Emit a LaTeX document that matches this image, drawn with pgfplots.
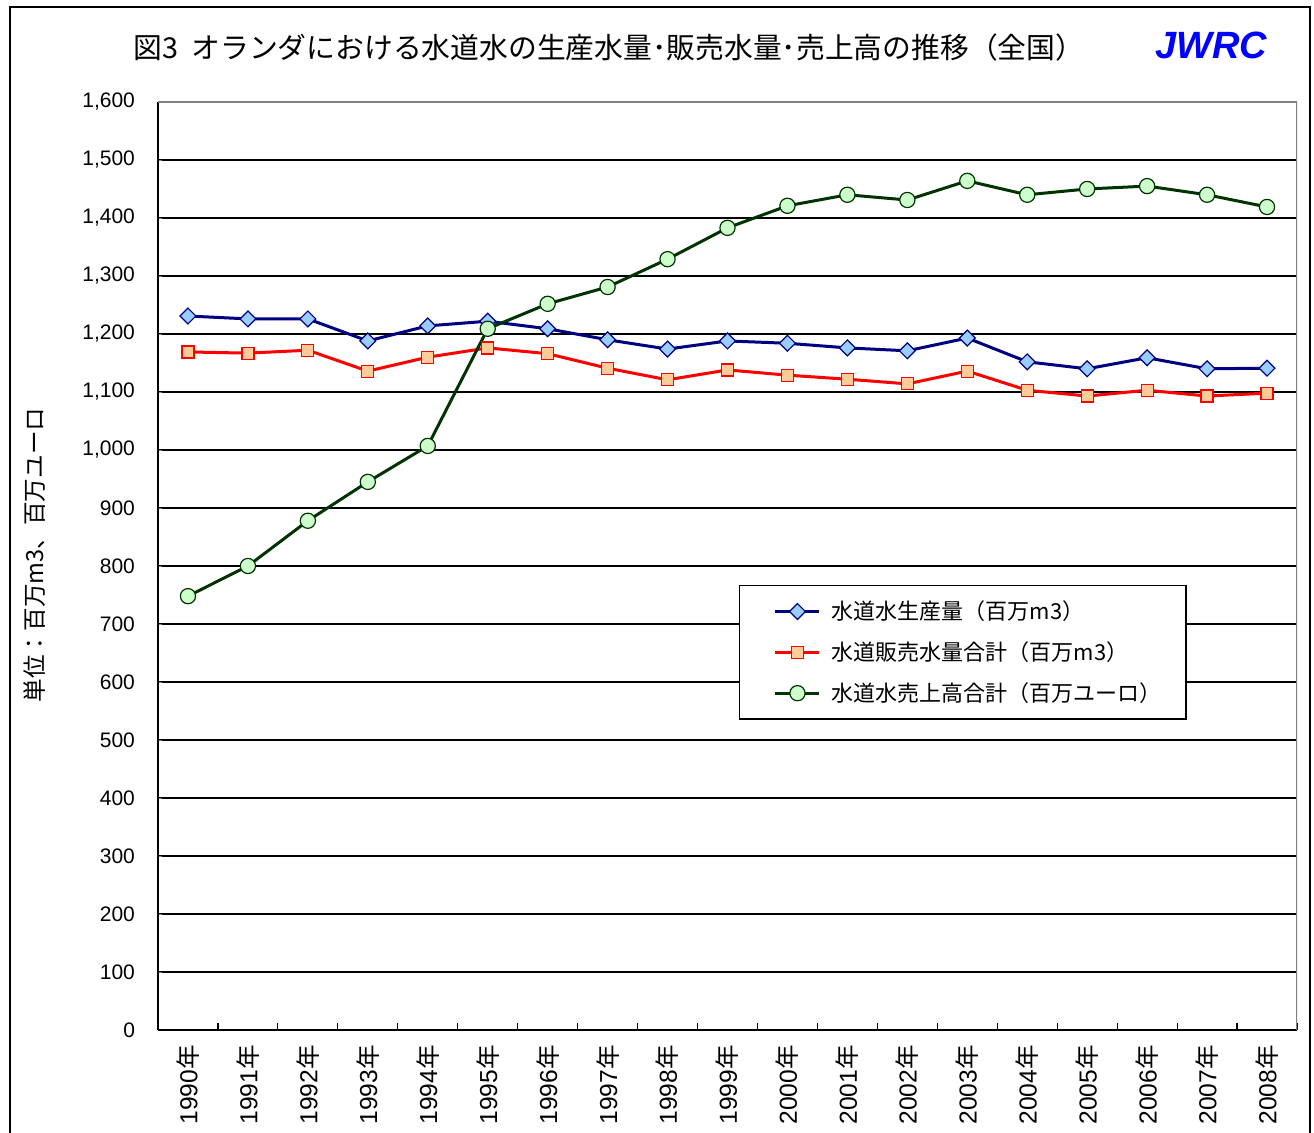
\documentclass[border=0pt]{standalone}
\usepackage{fontspec}
\setmainfont{Liberation Sans}
\newfontfamily\cjk{Noto Sans CJK JP}
\usepackage{pgfplots}
\pgfplotsset{compat=1.18}
\definecolor{navyline}{RGB}{0,0,128}
\definecolor{bluefill}{RGB}{153,204,255}
\definecolor{orangefill}{RGB}{255,204,153}
\definecolor{greenline}{RGB}{0,51,0}
\definecolor{greenfill}{RGB}{204,255,204}
\begin{document}
\begin{tikzpicture}
\useasboundingbox (0,0) rectangle (657pt,566.5pt);
\draw[line width=1.3pt] (5pt,-5pt) -- (5pt,563pt) -- (655pt,563pt) -- (655pt,-5pt);
\node[font=\cjk\fontsize{14.4}{15}\selectfont] at (304.5pt,542.5pt) {図3\ \ オランダにおける水道水の生産水量･販売水量･売上高の推移（全国）};
\node[font=\bfseries\itshape\fontsize{19}{20}\selectfont, text=blue] at (605.5pt,544pt) {JWRC};
\node[font=\cjk\fontsize{11.8}{12}\selectfont, rotate=90] at (17.5pt,289pt) {単位：百万m3、百万ユーロ};
\begin{axis}[
  at={(79pt,51.5pt)}, anchor=south west,
  scale only axis, width=569.5pt, height=464pt,
  xmin=-0.5, xmax=18.5, ymin=0, ymax=1600,
  axis x line*=bottom, axis y line*=left,
  axis line style={line width=1pt, black},
  xtick={0,...,18},
  xticklabels={1990{\cjk 年},1991{\cjk 年},1992{\cjk 年},1993{\cjk 年},1994{\cjk 年},1995{\cjk 年},1996{\cjk 年},1997{\cjk 年},1998{\cjk 年},1999{\cjk 年},2000{\cjk 年},2001{\cjk 年},2002{\cjk 年},2003{\cjk 年},2004{\cjk 年},2005{\cjk 年},2006{\cjk 年},2007{\cjk 年},2008{\cjk 年}},
  major x tick style={draw=none},
  minor xtick={-0.5,0.5,...,18.5},
  minor x tick style={black, line width=0.6pt},
  minor tick length=3.5pt,
  xticklabel style={yshift=-4pt, rotate=90, anchor=east, font=\fontsize{12.3}{13}\selectfont},
  ytick distance=100,
  major tick length=2pt,
  ymajorgrids, grid style={black, line width=0.75pt},
  yticklabel style={font=\fontsize{10.5}{11}\selectfont, xshift=-8pt},
  /pgf/number format/.cd, 1000 sep={,}, assume math mode=true,
  /pgfplots/.cd,
  legend style={at={(0.510,0.4795)}, anchor=north west, draw=black, line width=0.6pt,
    font=\cjk\fontsize{11}{12}\selectfont, inner xsep=10pt, inner ysep=5.5pt,
    row sep=5.5pt, column sep=3.5pt, cells={anchor=west}},
  legend cell align=left,
  legend image code/.code={\path[draw=none, mark=none] (0pt,0pt) -- (8pt,0pt);
    \draw[mark repeat=2,mark phase=2] plot coordinates {(8pt,0pt) (19pt,0pt) (30pt,0pt)};},
]
\draw[gray, line width=0.9pt] (rel axis cs:0,1) -- (rel axis cs:1,1) -- (rel axis cs:1,0);
\addplot[navyline, line width=1.5pt, mark=square*, mark size=2.8pt,
  mark options={rotate=45, fill=bluefill, draw=navyline, line width=0.6pt}]
  coordinates {(0,1231)(1,1226)(2,1226)(3,1188)(4,1214)(5,1222)(6,1209)(7,1190)(8,1174)(9,1188)(10,1184)(11,1176)(12,1171)(13,1193)(14,1152)(15,1140)(16,1159)(17,1140)(18,1141)};
\addlegendentry{水道水生産量（百万m3）}
\addplot[red, line width=1.5pt, mark=square*, mark size=3pt,
  mark options={fill=orangefill, draw=red, line width=0.6pt}]
  coordinates {(0,1169)(1,1167)(2,1172)(3,1136)(4,1160)(5,1176)(6,1166)(7,1141)(8,1121)(9,1138)(10,1129)(11,1122)(12,1114)(13,1136)(14,1103)(15,1093)(16,1103)(17,1093)(18,1098)};
\addlegendentry{水道販売水量合計（百万m3）}
\addplot[greenline, line width=1.5pt, mark=*, mark size=3.8pt,
  mark options={fill=greenfill, draw=greenline, line width=0.6pt}]
  coordinates {(0,748)(1,800)(2,878)(3,945)(4,1007)(5,1209)(6,1252)(7,1281)(8,1329)(9,1383)(10,1421)(11,1440)(12,1431)(13,1464)(14,1440)(15,1450)(16,1455)(17,1440)(18,1419)};
\addlegendentry{水道水売上高合計（百万ユーロ）}
\end{axis}
\end{tikzpicture}
\end{document}
